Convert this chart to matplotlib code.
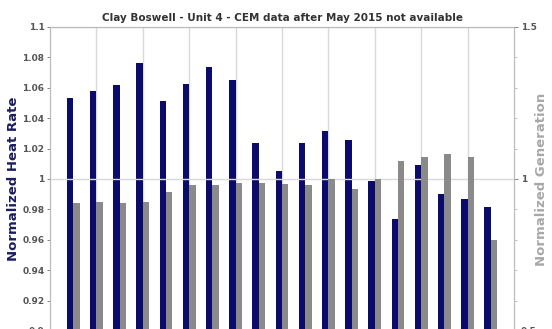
import numpy as np
import matplotlib
matplotlib.use('Agg')
import matplotlib.pyplot as plt
from matplotlib.ticker import MultipleLocator


# monthly groups, x = 1..19
months = list(range(1, 20))

# normalized heat rate (left axis)
heat_rate = [1.053, 1.058, 1.062, 1.076, 1.0515, 1.0625, 1.074, 1.065, 1.024,
             1.005, 1.0234, 1.0318, 1.0257, 0.999, 0.9737, 1.0094, 0.990,
             0.9868, 0.9813]

# normalized generation (right axis)
generation = [0.920, 0.923, 0.920, 0.925, 0.956, 0.981, 0.981, 0.988, 0.988,
              0.985, 0.980, 1.000, 0.967, 1.000, 1.060, 1.073, 1.082,
              1.074, 0.800]

title = 'Clay Boswell - Unit 4 - CEM data after May 2015 not available'

NAVY = '#0b0b6b'
GRAY = '#8a8a8a'
GRID = '#d9d9d9'
TICK = '#555555'


def main():
    fig = plt.figure(figsize=(5.52, 3.29), dpi=100)
    W, H = 552.0, 329.0
    ax = fig.add_axes([50 / W, (H - 331) / H, 464 / W, 304 / H])
    ax2 = ax.twinx()

    x = np.array(months)
    w = 0.28
    ax.bar(x, heat_rate, width=-w, align='edge', color=NAVY, zorder=3)
    ax2.bar(x, generation, width=w, align='edge', color=GRAY, zorder=3)

    ax.set_xlim(0, 20)
    ax.set_ylim(0.9, 1.1)
    ax2.set_ylim(0.5, 1.5)

    # left axis ticks
    ax.yaxis.set_major_locator(MultipleLocator(0.02))
    ax.yaxis.set_major_formatter(plt.FuncFormatter(lambda v, p: '%g' % round(v, 2)))
    ax.tick_params(axis='y', labelsize=6.5, colors=TICK, length=2, width=0.5, pad=2)
    for t in ax.get_yticklabels():
        t.set_fontweight('bold')

    # right axis ticks
    ax2.yaxis.set_major_locator(MultipleLocator(0.5))
    ax2.yaxis.set_minor_locator(MultipleLocator(0.1))
    ax2.yaxis.set_major_formatter(plt.FuncFormatter(lambda v, p: '%g' % v))
    ax2.tick_params(axis='y', which='major', labelsize=6.5, colors=TICK,
                    length=3, width=0.5, pad=2)
    ax2.tick_params(axis='y', which='minor', colors='#aaaaaa', length=2, width=0.5)
    for t in ax2.get_yticklabels():
        t.set_fontweight('bold')

    # grid: vertical every 2 months, horizontal at right-axis majors
    ax.set_xticks(np.arange(2, 20, 2))
    ax.tick_params(axis='x', length=0, labelbottom=False)
    ax.grid(axis='x', color=GRID, linewidth=1.0, zorder=0)
    ax2.grid(axis='y', color=GRID, linewidth=1.0, zorder=0)
    ax2.set_axisbelow(True)
    ax.set_axisbelow(True)

    for a in (ax, ax2):
        for s in a.spines.values():
            s.set_color('#bbbbbb')
            s.set_linewidth(0.8)

    ax.set_ylabel('Normalized Heat Rate', fontsize=9.5, fontweight='bold',
                  color='#1c1c5e')
    ax.yaxis.set_label_coords(-0.064, 0.5)
    ax2.set_ylabel('Normalized Generation', fontsize=9.5, color='#a8a8a8',
                   fontweight='bold')
    ax2.yaxis.set_label_coords(1.046, 0.5)
    ax.set_title(title, fontsize=7.5, fontweight='bold', color='#333333', pad=4)

    fig.savefig('out.png', dpi=100)


if __name__ == '__main__':
    main()
